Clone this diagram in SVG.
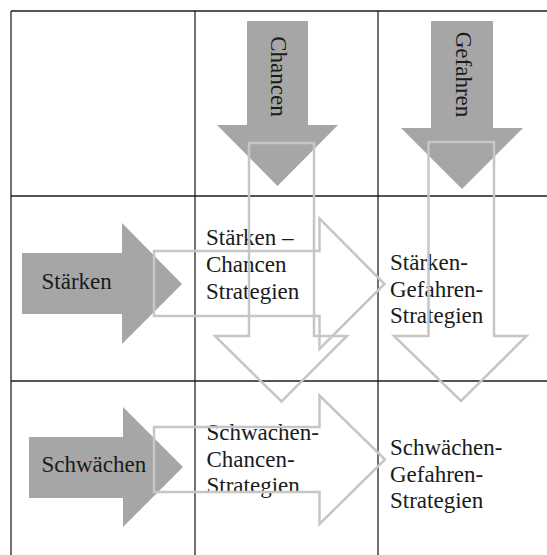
<svg xmlns="http://www.w3.org/2000/svg" width="547" height="555" viewBox="0 0 547 555">
  <style>
    .grid-h { stroke: #555; stroke-width: 2; fill: none; }
    .grid-v { stroke: #111; stroke-width: 1.2; fill: none; }
    .solid { fill: #a6a6a6; stroke: none; }
    .hollow { fill: none; stroke: #c6c6c6; stroke-width: 2.5; stroke-linejoin: miter; }
    .lbl { font-family: "Liberation Serif", "Times New Roman", serif; font-size: 23px; fill: #1a1a1a; }
  </style>

  <rect x="0" y="0" width="547" height="555" fill="#ffffff"/>

  <!-- table grid -->
  <g id="grid">
    <line class="grid-h" x1="11" y1="11" x2="547" y2="11"/>
    <line class="grid-h" x1="11" y1="196" x2="547" y2="196"/>
    <line class="grid-h" x1="11" y1="381" x2="547" y2="381"/>
    <line class="grid-v" x1="11" y1="11" x2="11" y2="555"/>
    <line class="grid-v" x1="195" y1="11" x2="195" y2="555"/>
    <line class="grid-v" x1="378" y1="11" x2="378" y2="555"/>
  </g>

  <!-- header arrows -->
  <g id="chancen">
    <polygon class="solid" points="247,21 308,21 308,125 338,125 277.5,186 217,125 247,125"/>
    <text class="lbl" transform="translate(271,76.5) rotate(90)" text-anchor="middle">Chancen</text>
  </g>
  <g id="gefahren">
    <polygon class="solid" points="431,21 493,21 493,128 523,128 462,189 401,128 431,128"/>
    <text class="lbl" transform="translate(456,74.5) rotate(90)" text-anchor="middle">Gefahren</text>
  </g>
  <g id="staerken">
    <polygon class="solid" points="22,253 122,253 122,223 182,284 122,344 122,314 22,314"/>
    <text class="lbl" x="41.5" y="289">Stärken</text>
  </g>
  <g id="schwaechen">
    <polygon class="solid" points="29,437 123,437 123,407 183,467 123,527 123,498 29,498"/>
    <text class="lbl" x="41.5" y="472">Schwächen</text>
  </g>

  <!-- strategy cells -->
  <g id="sc">
    <text class="lbl" x="206" y="245">Stärken –</text>
    <text class="lbl" x="206" y="272">Chancen</text>
    <text class="lbl" x="206" y="299">Strategien</text>
  </g>
  <g id="sg">
    <text class="lbl" x="390" y="270">Stärken-</text>
    <text class="lbl" x="390" y="296.5">Gefahren-</text>
    <text class="lbl" x="390" y="323">Strategien</text>
  </g>
  <g id="wc">
    <text class="lbl" x="206.5" y="440">Schwachen-</text>
    <text class="lbl" x="206.5" y="466.5">Chancen-</text>
    <text class="lbl" x="206.5" y="493">Strategien</text>
  </g>
  <g id="wg">
    <text class="lbl" x="390" y="455">Schwächen-</text>
    <text class="lbl" x="390" y="481.5">Gefahren-</text>
    <text class="lbl" x="390" y="508">Strategien</text>
  </g>

  <!-- connectors: hollow arrows linking headers to strategy cells -->
  <g id="connectors">
    <polygon class="hollow" points="154,251 319.5,251 319.5,218.5 384.5,284 319.5,349 319.5,316 154,316"/>
    <polygon class="hollow" points="154,427 319.5,427 319.5,395.5 385,459.5 319.5,524 319.5,492 154,492"/>
    <polygon class="hollow" points="249,143 314,143 314,336 347,336 281.5,401.5 215,336 249,336"/>
    <polygon class="hollow" points="428.5,142 494,142 494,336 526.5,336 461,401 394,336 428.5,336"/>
  </g>
</svg>
